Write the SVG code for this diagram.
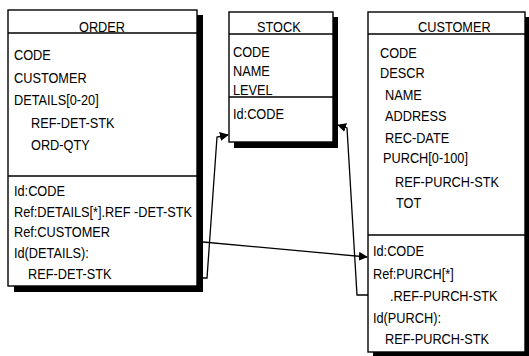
<svg xmlns="http://www.w3.org/2000/svg" width="529" height="356" viewBox="0 0 529 356">
<style>
.box{fill:#fff;stroke:#000;stroke-width:1.4}
.sep{stroke:#000;stroke-width:1.3}
.sh{fill:#000}
text{font-family:"Liberation Sans",Arial,sans-serif;font-size:15px;fill:#000}
.c{stroke:#000;stroke-width:1.3;fill:none}
</style>
<defs>
<marker id="ah" viewBox="0 0 10 10" refX="9" refY="5" markerWidth="9" markerHeight="9" markerUnits="userSpaceOnUse" orient="auto">
<path d="M0,0 L10,5 L0,10 z" fill="#000"/>
</marker>
</defs>
<g id="order">
<rect class="sh" x="197" y="15" width="6" height="277"/>
<rect class="sh" x="14" y="286" width="189" height="6"/>
<rect class="box" x="8" y="10" width="189" height="276"/>
<line class="sep" x1="8" y1="33" x2="197" y2="33"/>
<line class="sep" x1="8" y1="176" x2="197" y2="176"/>
<text transform="translate(79,32) scale(0.85,1)">ORDER</text>
<text transform="translate(14,60) scale(0.85,1)">CODE</text>
<text transform="translate(14,82.5) scale(0.85,1)">CUSTOMER</text>
<text transform="translate(14,105) scale(0.85,1)">DETAILS[0-20]</text>
<text transform="translate(31,127.5) scale(0.85,1)">REF-DET-STK</text>
<text transform="translate(31,150) scale(0.85,1)">ORD-QTY</text>
<text transform="translate(14,196) scale(0.85,1)">Id:CODE</text>
<text transform="translate(14,217) scale(0.85,1)">Ref:DETAILS[*].REF -DET-STK</text>
<text transform="translate(14,237) scale(0.85,1)">Ref:CUSTOMER</text>
<text transform="translate(14,258) scale(0.85,1)">Id(DETAILS):</text>
<text transform="translate(28,279) scale(0.85,1)">REF-DET-STK</text>
</g>
<g id="stock">
<rect class="sh" x="333" y="17" width="5" height="131"/>
<rect class="sh" x="234" y="142" width="104" height="6"/>
<rect class="box" x="229" y="12" width="104" height="130"/>
<line class="sep" x1="229" y1="34" x2="333" y2="34"/>
<line class="sep" x1="229" y1="97" x2="333" y2="97"/>
<text transform="translate(257,32) scale(0.85,1)">STOCK</text>
<text transform="translate(233,57) scale(0.85,1)">CODE</text>
<text transform="translate(233,76) scale(0.85,1)">NAME</text>
<text transform="translate(233,95) scale(0.85,1)">LEVEL</text>
<text transform="translate(233,119) scale(0.85,1)">Id:CODE</text>
</g>
<g id="customer">
<rect class="sh" x="525" y="17" width="4" height="339"/>
<rect class="sh" x="373" y="352" width="156" height="4"/>
<rect class="box" x="368" y="12" width="157" height="340"/>
<line class="sep" x1="368" y1="34" x2="525" y2="34"/>
<line class="sep" x1="368" y1="235" x2="525" y2="235"/>
<text transform="translate(418,32) scale(0.85,1)">CUSTOMER</text>
<text transform="translate(380,58) scale(0.85,1)">CODE</text>
<text transform="translate(380,78) scale(0.85,1)">DESCR</text>
<text transform="translate(385,100) scale(0.85,1)">NAME</text>
<text transform="translate(385,121) scale(0.85,1)">ADDRESS</text>
<text transform="translate(385,143) scale(0.85,1)">REC-DATE</text>
<text transform="translate(383,163) scale(0.85,1)">PURCH[0-100]</text>
<text transform="translate(395,187) scale(0.85,1)">REF-PURCH-STK</text>
<text transform="translate(396,208) scale(0.85,1)">TOT</text>
<text transform="translate(373,256) scale(0.85,1)">Id:CODE</text>
<text transform="translate(373,279) scale(0.85,1)">Ref:PURCH[*]</text>
<text transform="translate(390,301) scale(0.85,1)">.REF-PURCH-STK</text>
<text transform="translate(373,323) scale(0.85,1)">Id(PURCH):</text>
<text transform="translate(385,344) scale(0.85,1)">REF-PURCH-STK</text>
</g>
<g id="connectors">
<polyline class="c" points="203,278 207,278 217,137 228,135" marker-end="url(#ah)"/>
<line class="c" x1="203" y1="242" x2="367" y2="257" marker-end="url(#ah)"/>
<polyline class="c" points="368,295 357,295 347,128 338,125" marker-end="url(#ah)"/>
</g>
</svg>
